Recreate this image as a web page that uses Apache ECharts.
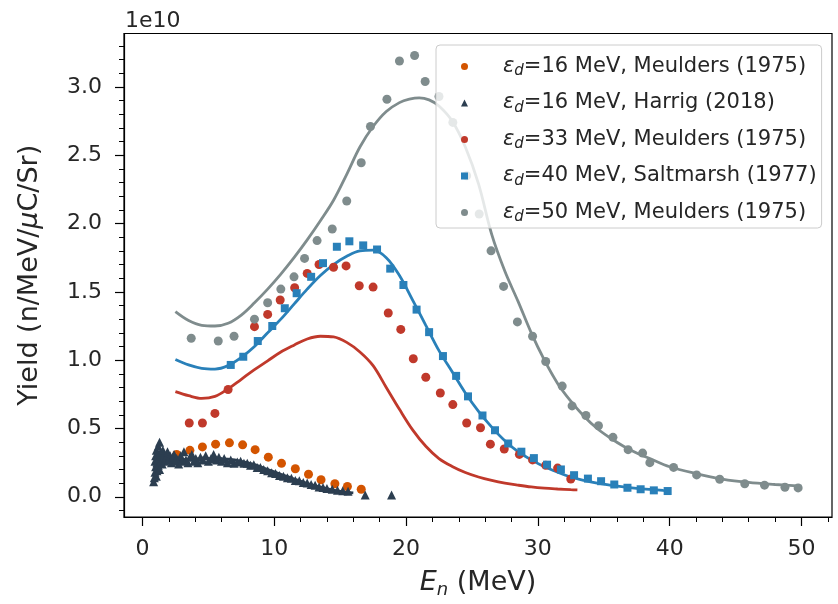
<!DOCTYPE html>
<html><head><meta charset="utf-8">
<script src="https://cdn.jsdelivr.net/npm/echarts@6/dist/echarts.min.js"></script>
<style>html,body{margin:0;padding:0;background:#fff}#c{width:838px;height:604px}</style>
</head><body><div id="c"></div><script>
// ---- data (yield in units of 1e10 n/MeV/uC/Sr, energy in MeV) ----
const xTicks = [0, 10, 20, 30, 40, 50];
const yTicks = [0, 0.5, 1.0, 1.5, 2.0, 2.5, 3.0];

const meulders16 = [[2.6,0.31],[3.6,0.34],[4.55,0.365],[5.55,0.385],[6.6,0.395],[7.6,0.38],[8.55,0.345],[9.55,0.29],[10.55,0.245],[11.6,0.205],[12.6,0.165],[13.55,0.125],[14.6,0.095],[15.55,0.075],[16.6,0.055]];

const harrig16 = [[0.85,0.11],[0.9,0.14],[0.95,0.18],[0.95,0.26],[1.0,0.22],[1.0,0.30],[1.05,0.15],[1.05,0.34],[1.1,0.25],[1.1,0.19],
 [1.15,0.31],[1.2,0.37],[1.2,0.23],[1.25,0.28],[1.3,0.40],[1.3,0.20],[1.35,0.32],[1.4,0.26],[1.45,0.30],[1.5,0.24],
 [1.55,0.34],[1.6,0.28],[1.65,0.31],[1.7,0.26],[1.8,0.29],[1.9,0.33],[2.0,0.27],[2.1,0.30],[2.2,0.25],[2.3,0.29],
 [2.4,0.31],[2.5,0.26],[2.6,0.28],[2.75,0.24],[2.9,0.30],[3.0,0.26],[3.15,0.33],[3.3,0.27],[3.45,0.25],[3.6,0.29],
 [3.75,0.31],[3.9,0.26],[4.05,0.28],[4.2,0.25],[4.4,0.29],[4.6,0.27],[4.8,0.30],[5.0,0.26],[5.2,0.28],[5.4,0.31],
 [5.6,0.27],[5.8,0.29],[6.0,0.26],[6.2,0.28],[6.45,0.25],[6.7,0.27],[6.95,0.245],[7.2,0.255],[7.45,0.26],[7.7,0.245],
 [7.95,0.245],[8.2,0.23],[8.45,0.235],[8.7,0.215],[8.95,0.215],[9.2,0.2],[9.5,0.19],[9.8,0.175],[10.1,0.17],[10.4,0.155],
 [10.7,0.15],[11.0,0.14],[11.3,0.135],[11.6,0.12],[11.9,0.118],[12.2,0.105],[12.5,0.1],[12.8,0.09],[13.1,0.085],[13.4,0.072],
 [13.7,0.068],[14.0,0.06],[14.4,0.055],[14.8,0.048],[15.2,0.045],[15.6,0.04],[16.9,0.013],[18.9,0.013]];

const meulders33 = [[3.55,0.54],[4.55,0.54],[5.5,0.61],[6.5,0.785],[8.5,1.245],[9.5,1.335],[10.45,1.44],[11.55,1.53],[12.5,1.635],[13.4,1.70],
 [14.5,1.68],[15.45,1.69],[16.45,1.545],[17.5,1.535],[18.65,1.345],[19.6,1.225],[20.55,1.01],[21.5,0.875],[22.6,0.76],[23.55,0.675],
 [24.6,0.54],[25.65,0.505],[26.4,0.385],[27.45,0.35],[28.6,0.31],[29.6,0.27],[30.6,0.23],[31.5,0.21],[32.5,0.13]];

const saltmarsh40 = [[6.7,0.965],[7.65,1.025],[8.75,1.14],[9.85,1.25],[10.8,1.38],[11.7,1.49],[12.8,1.61],[13.7,1.71],[14.75,1.83],[15.7,1.87],
 [16.75,1.84],[17.8,1.81],[18.8,1.67],[19.8,1.55],[20.8,1.37],[21.75,1.205],[22.8,1.03],[23.8,0.885],[24.7,0.735],[25.8,0.595],
 [26.75,0.487],[27.75,0.39],[28.75,0.33],[29.7,0.283],[30.7,0.235],[31.75,0.2],[32.75,0.158],[33.8,0.133],[34.8,0.114],[35.8,0.09],
 [36.8,0.066],[37.8,0.055],[38.8,0.047],[39.85,0.042]];

const meulders50 = [[3.7,1.16],[5.75,1.14],[6.95,1.175],[8.5,1.30],[9.5,1.42],[10.5,1.52],[11.5,1.61],[12.3,1.745],[13.25,1.875],[14.4,1.96],
 [15.5,2.165],[16.6,2.445],[17.3,2.71],[18.55,2.91],[19.5,3.19],[20.65,3.23],[21.45,3.04],[22.5,2.93],[23.55,2.74],[24.6,2.35],
 [25.55,2.07],[26.45,1.80],[27.4,1.54],[28.45,1.28],[29.6,1.175],[30.6,0.99],[31.85,0.81],[32.6,0.665],[33.65,0.595],[34.6,0.52],
 [35.7,0.435],[36.85,0.345],[37.95,0.32],[38.5,0.25],[40.3,0.215],[42.05,0.16],[43.8,0.128],[45.7,0.095],[47.2,0.085],[48.75,0.07],[49.75,0.065]];

const fit16 = [[2.5,0.265],[3.5,0.275],[4.5,0.28],[5.5,0.28],[6.5,0.275],[7.5,0.26],[8.5,0.235],[9.5,0.2],[10.5,0.165],[11.5,0.13],[12.5,0.097],[13.5,0.07],[14.5,0.048],[15.5,0.033],[16.0,0.028]];
const fit33 = [[2.5,0.77],[3.5,0.74],[4.5,0.72],[5.5,0.735],[6.5,0.79],[7.5,0.86],[8.5,0.93],[9.5,0.995],[10.5,1.06],[11.5,1.11],[12.5,1.155],[13.5,1.175],[14.5,1.17],[15.5,1.13],[16.5,1.06],[17.5,0.96],[18.5,0.8],[19.5,0.64],[20.5,0.49],[21.5,0.37],[22.5,0.28],[23.5,0.222],[24.5,0.178],[25.5,0.145],[26.5,0.12],[27.5,0.1],[28.5,0.085],[29.5,0.072],[30.5,0.063],[31.5,0.057],[32.5,0.052],[33.0,0.05]];
const fit40 = [[2.5,1.005],[3.5,0.965],[4.5,0.94],[5.5,0.935],[6.5,0.96],[7.5,1.02],[8.5,1.1],[9.5,1.2],[10.5,1.3],[11.5,1.41],[12.5,1.52],[13.5,1.62],[14.5,1.7],[15.5,1.76],[16.5,1.8],[17.5,1.805],[18.5,1.75],[19.5,1.62],[20.5,1.44],[21.5,1.255],[22.5,1.07],[23.5,0.915],[24.5,0.76],[25.5,0.625],[26.5,0.51],[27.5,0.41],[28.5,0.33],[29.5,0.27],[30.5,0.22],[31.5,0.18],[32.5,0.145],[33.5,0.12],[34.5,0.1],[35.5,0.085],[36.5,0.072],[37.5,0.062],[38.5,0.054],[39.5,0.047],[40.0,0.044]];
const fit50 = [[2.5,1.355],[3.5,1.29],[4.5,1.255],[5.5,1.25],[6.5,1.27],[7.5,1.33],[8.5,1.42],[9.5,1.52],[10.5,1.63],[11.5,1.75],[12.5,1.88],[13.5,2.02],[14.5,2.17],[15.5,2.36],[16.5,2.56],[17.5,2.71],[18.5,2.82],[19.5,2.885],[20.25,2.91],[21.0,2.92],[21.75,2.905],[22.5,2.86],[23.5,2.75],[24.5,2.56],[25.5,2.29],[26.5,1.92],[27.5,1.65],[28.5,1.43],[29.5,1.2],[30.5,1.0],[31.5,0.83],[32.5,0.7],[33.5,0.59],[34.5,0.5],[35.5,0.43],[36.5,0.37],[37.5,0.32],[38.5,0.28],[40,0.22],[42,0.17],[44,0.13],[46,0.105],[48,0.09],[50,0.078]];

const legendNames = ['m16', 'h16', 'm33', 's40', 'm50'];
const legendEnergy = ['16', '16', '33', '40', '50'];
const legendSource = ['Meulders (1975)', 'Harrig (2018)', 'Meulders (1975)', 'Saltmarsh (1977)', 'Meulders (1975)'];

const FONT = 'DejaVu Sans';
const TXT = '#262626';
const COL = {m16:'#d35400', h16:'#2c3e50', m33:'#c0392b', s40:'#2980b9', m50:'#7f8c8d'};

const chart = echarts.init(document.getElementById('c'), null, {renderer:'canvas'});

function fitLine(data, color) {
  return {type:'line', data, smooth:0.35, showSymbol:false, silent:true, z:2,
    lineStyle:{color, width:2.8}, itemStyle:{color}};
}
function pts(name, data, symbol, size) {
  return {type:'scatter', name, data, symbol, symbolSize:size, z:3,
    itemStyle:{color:COL[name], opacity:1}};
}

chart.setOption({
  animation:false,
  backgroundColor:'#fff',
  textStyle:{fontFamily:FONT},
  grid:{left:124, right:6, top:33.5, bottom:81, show:true, borderColor:'#000', borderWidth:1.2, backgroundColor:'transparent'},
  xAxis:{type:'value', min:-1.4, max:52.32, splitNumber:5,
    name:'{e|E}{n|n}{a| (MeV)}', nameLocation:'middle', nameGap:50,
    nameTextStyle:{rich:{
      e:{fontFamily:FONT, fontSize:27, fontStyle:'italic', color:TXT, lineHeight:32},
      n:{fontFamily:FONT, fontSize:18, fontStyle:'italic', color:TXT, lineHeight:21, verticalAlign:'bottom'},
      a:{fontFamily:FONT, fontSize:27, color:TXT, lineHeight:32}}},
    axisLine:{show:true, onZero:false, lineStyle:{color:'#000', width:1.2}},
    axisTick:{show:true, length:9, lineStyle:{color:'#000', width:1.2}, customValues:xTicks},
    minorTick:{show:true, splitNumber:5, length:5, lineStyle:{color:'#000', width:1}},
    axisLabel:{fontFamily:FONT, fontSize:22, color:TXT, margin:21, customValues:xTicks,
      formatter:v=>String(Math.round(v))},
    splitLine:{show:false}},
  yAxis:{type:'value', min:-0.148, max:3.391, splitNumber:7,
    name:'{a|Yield (n/MeV/}{m|μ}{a|C/Sr)}', nameLocation:'middle', nameGap:78,
    nameTextStyle:{rich:{
      a:{fontFamily:FONT, fontSize:27, color:TXT, lineHeight:32},
      m:{fontFamily:FONT, fontSize:27, fontStyle:'italic', color:TXT, lineHeight:32}}},
    axisLine:{show:true, onZero:false, lineStyle:{color:'#000', width:1.2}},
    axisTick:{show:true, length:9, lineStyle:{color:'#000', width:1.2}, customValues:yTicks},
    minorTick:{show:true, splitNumber:5, length:5, lineStyle:{color:'#000', width:1}},
    axisLabel:{fontFamily:FONT, fontSize:22, color:TXT, margin:22, customValues:yTicks,
      formatter:v=>v.toFixed(1)},
    splitLine:{show:false}},
  legend:{data:legendNames, orient:'vertical', left:436, top:45, padding:[11,5,3,25],
    itemWidth:7, itemHeight:7, itemGap:13.5,
    backgroundColor:'rgba(255,255,255,0.8)', borderColor:'#cccccc', borderWidth:1, borderRadius:4,
    formatter:function(name){
      const i = legendNames.indexOf(name);
      return '{p|}{e|ε}{d|d}{t|=' + legendEnergy[i] + ' MeV, ' + legendSource[i] + '}';
    },
    textStyle:{color:TXT, fontFamily:FONT, fontSize:21, rich:{
      p:{width:30, lineHeight:25},
      e:{fontFamily:FONT, fontSize:21, fontStyle:'italic', color:TXT, lineHeight:25},
      d:{fontFamily:FONT, fontSize:15, fontStyle:'italic', color:TXT, lineHeight:15, verticalAlign:'bottom'},
      t:{fontFamily:FONT, fontSize:21, color:TXT, lineHeight:25}}}},
  graphic:[{type:'text', left:125, top:10, style:{text:'1e10', font:'22px "DejaVu Sans"', fill:TXT}}],
  series:[
    fitLine(fit50, COL.m50),
    fitLine(fit40, COL.s40),
    fitLine(fit33, COL.m33),
    fitLine(fit16, COL.h16),
    pts('m16', meulders16, 'circle', 9),
    pts('h16', harrig16, 'triangle', 9),
    pts('m33', meulders33, 'circle', 9),
    pts('s40', saltmarsh40, 'rect', 8),
    pts('m50', meulders50, 'circle', 9)
  ]
});
</script></body></html>
